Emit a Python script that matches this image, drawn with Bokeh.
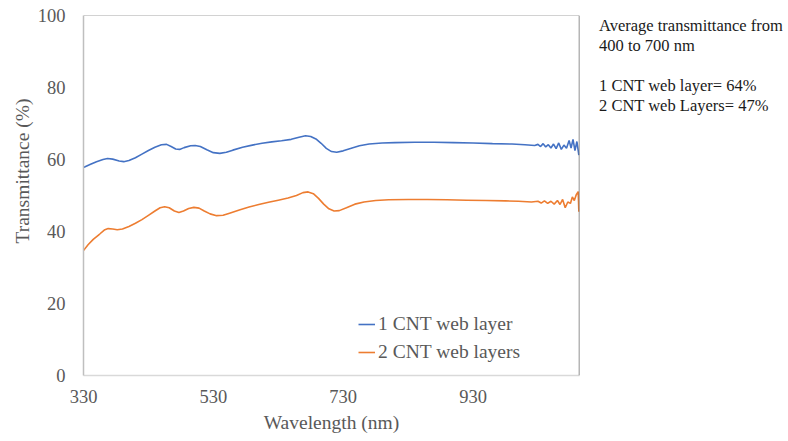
from bokeh.plotting import figure
from bokeh.models import ColumnDataSource, Span, Legend, LegendItem, FixedTicker, Range1d, Title, Div
from bokeh.layouts import row
from bokeh.embed import file_html
from bokeh.resources import INLINE

# ---------------- data ----------------
wl_1 = [330, 340, 350, 360, 367, 375, 385, 392, 400, 410, 420, 430, 440, 450, 458,
        465, 472, 478, 485, 495, 502, 510, 520, 530, 540, 550, 560, 575, 590, 605,
        620, 635, 650, 662, 672, 680, 688, 696, 704, 712, 720, 730, 740, 755, 770,
        790, 810, 840, 870, 900, 930, 960, 990, 1010, 1025,
        1030, 1034, 1038, 1042, 1046, 1050, 1054, 1058, 1062, 1066, 1070, 1074,
        1078, 1081, 1084, 1087, 1090, 1093]
t_1 = [57.8, 58.6, 59.4, 60.0, 60.3, 60.1, 59.6, 59.4, 59.7, 60.5, 61.5, 62.5, 63.4, 64.1, 64.2,
       63.6, 62.9, 62.8, 63.3, 63.8, 63.9, 63.6, 62.7, 61.9, 61.7, 62.0, 62.6, 63.4, 64.0, 64.5,
       64.9, 65.2, 65.6, 66.2, 66.6, 66.4, 65.7, 64.5, 63.1, 62.2, 62.0, 62.4, 63.0, 63.8, 64.3,
       64.6, 64.7, 64.8, 64.8, 64.7, 64.6, 64.4, 64.3, 64.1, 63.9,
       64.2, 63.6, 64.4, 63.5, 64.1, 63.2, 64.3, 63.0, 64.6, 62.8, 64.0, 63.1,
       65.3, 63.2, 65.6, 62.5, 65.0, 61.2]

wl_2 = [330, 337, 345, 355, 362, 368, 375, 382, 390, 400, 410, 420, 430, 440, 448,
        455, 462, 470, 477, 484, 492, 500, 508, 516, 525, 535, 545, 555, 570, 585,
        600, 615, 630, 645, 658, 668, 676, 684, 692, 700, 708, 716, 724, 735, 748,
        762, 780, 800, 830, 860, 890, 920, 950, 980, 1000, 1020,
        1030, 1035, 1040, 1045, 1050, 1055, 1060, 1064, 1068, 1072, 1076, 1080,
        1083, 1086, 1089, 1092, 1093]
t_2 = [34.7, 36.3, 37.8, 39.3, 40.4, 40.8, 40.7, 40.5, 40.7, 41.4, 42.3, 43.3, 44.5, 45.7, 46.6,
       46.9, 46.6, 45.7, 45.3, 45.7, 46.4, 46.7, 46.5, 45.7, 44.9, 44.4, 44.5, 45.1, 46.0, 46.8,
       47.5, 48.1, 48.7, 49.3, 50.0, 50.8, 51.0, 50.5, 49.2, 47.6, 46.3, 45.7, 45.8, 46.6, 47.6,
       48.2, 48.6, 48.8, 48.9, 48.9, 48.8, 48.7, 48.6, 48.5, 48.4, 48.2,
       48.4, 47.9, 48.5, 47.8, 48.4, 47.6, 48.6, 47.5, 48.9, 46.6, 48.2, 47.8,
       49.6, 48.6, 50.2, 51.1, 45.5]

series_names = ["1 CNT web layer", "2 CNT web layers"]
x_ticks = [330, 530, 730, 930]
y_ticks = [0, 20, 40, 60, 80, 100]
note_lines = ["Average transmittance from", "400 to 700 nm", "",
              "1 CNT web layer= 64%", "2 CNT web Layers= 47%"]
x_title = "Wavelength (nm)"
y_title = "Transmittance (%)"

X_MIN, X_MAX = 330, 1094
FONT = "Liberation Serif"
GRAY = "#595959"

p = figure(width=598, height=438, output_backend="svg", toolbar_location=None,
           x_range=Range1d(X_MIN, X_MAX), y_range=Range1d(0, 100),
           min_border_left=83, min_border_right=19, min_border_top=15, min_border_bottom=63,
           margin=0)
p.outline_line_color = None
p.xgrid.visible = False
p.ygrid.visible = False

src1 = ColumnDataSource(dict(x=wl_1, y=t_1))
src2 = ColumnDataSource(dict(x=wl_2, y=t_2))
r1 = p.line("x", "y", source=src1, line_color="#4472C4", line_width=1.6)
r2 = p.line("x", "y", source=src2, line_color="#ED7D31", line_width=1.6)

for ax, ticks in ((p.xaxis[0], x_ticks), (p.yaxis[0], y_ticks)):
    ax.ticker = FixedTicker(ticks=ticks)
    ax.major_tick_line_color = None
    ax.minor_tick_line_color = None
    ax.major_tick_out = 0
    ax.major_tick_in = 0
    ax.major_label_text_font = FONT
    ax.major_label_text_font_size = "18.5px"
    ax.major_label_text_color = GRAY
p.xaxis.axis_line_color = "#d9d9d9"
p.xaxis.axis_line_width = 1.5
p.xaxis.major_label_standoff = 14
p.xaxis.axis_label = x_title
p.xaxis.axis_label_text_font = FONT
p.xaxis.axis_label_text_font_size = "19.5px"
p.xaxis.axis_label_text_font_style = "normal"
p.xaxis.axis_label_text_color = GRAY
p.xaxis.axis_label_standoff = 6
p.yaxis.axis_line_color = "#bfbfbf"
p.yaxis.axis_line_width = 1.5
p.yaxis.major_label_standoff = 18

ytitle = Title(text=y_title, align="left", offset=132, text_font=FONT,
               text_font_size="19.5px", text_font_style="normal", text_color=GRAY,
               standoff=4)
p.add_layout(ytitle, "left")

p.add_layout(Span(location=100, dimension="width", line_color="#a6a6a6", line_width=1.2))
p.add_layout(Span(location=X_MAX, dimension="height", line_color="#6e6e6e", line_width=1.5))

legend = Legend(items=[LegendItem(label=series_names[0], renderers=[r1]),
                       LegendItem(label=series_names[1], renderers=[r2])],
                location=(275, 12))
legend.border_line_color = None
legend.background_fill_alpha = 0
legend.label_text_font = FONT
legend.label_text_font_size = "19.5px"
legend.label_text_color = GRAY
legend.glyph_width = 17
legend.glyph_height = 20
legend.label_height = 20
legend.label_standoff = 3
legend.padding = 0
legend.margin = 0
legend.spacing = 6
p.add_layout(legend)

note_html = "<br>".join(line if line else "&nbsp;" for line in note_lines)
note = Div(text=note_html, width=188, height=438, margin=0,
           styles={"font-family": "'Liberation Serif'", "font-size": "16.5px",
                   "line-height": "20px", "color": "#1a1a1a",
                   "padding-top": "16px", "padding-left": "1px"})

layout = row(p, note, spacing=0)
open("out.html", "w").write(file_html(layout, INLINE))
